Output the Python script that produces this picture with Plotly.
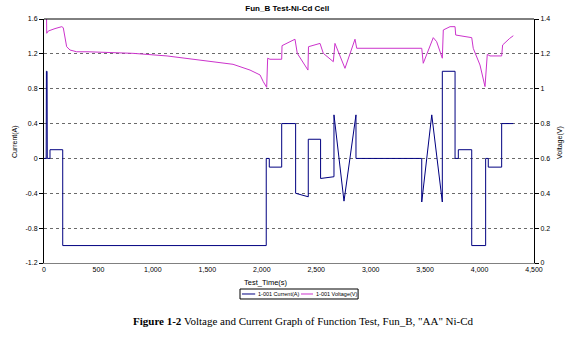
import plotly.graph_objects as go

# ---- data ----
current_t = [0, 20, 22, 28, 30, 55, 55, 172, 172, 2041, 2041, 2069, 2069, 2183, 2183,
             2311, 2311, 2427, 2427, 2540, 2540, 2663, 2663, 2755, 2865, 2865, 3469,
             3469, 3561, 3658, 3658, 3775, 3775, 3805, 3805, 3928, 3928, 4056, 4056,
             4080, 4080, 4203, 4203, 4310]
current_a = [0, 0, 1.0, 1.0, 0, 0, 0.1, 0.1, -1.0, -1.0, 0, 0, -0.1, -0.1, 0.4,
             0.4, -0.4, -0.44, 0.22, 0.22, -0.23, -0.21, 0.5, -0.49, 0.5, 0, 0,
             -0.5, 0.5, -0.5, 1.0, 1.0, 0, 0, 0.1, 0.1, -1.0, -1.0, 0,
             0, -0.1, -0.1, 0.4, 0.4]

voltage_t = [0, 23, 25, 39, 101, 163, 177, 208, 239, 300, 404, 514, 817, 1130, 1433,
             1736, 1892, 1984, 2014, 2045, 2054, 2075, 2183, 2186, 2305, 2326, 2424,
             2429, 2535, 2565, 2657, 2672, 2764, 2856, 2872, 3469, 3483, 3575, 3606,
             3658, 3667, 3729, 3775, 3781, 3928, 3942, 4004, 4050, 4071, 4096, 4203,
             4212, 4277, 4310]
voltage_v = [1.45, 1.45, 1.318, 1.331, 1.345, 1.356, 1.35, 1.241, 1.222, 1.212, 1.212,
             1.209, 1.203, 1.188, 1.165, 1.14, 1.107, 1.079, 1.04, 1.008, 1.175, 1.169,
             1.169, 1.247, 1.284, 1.203, 1.107, 1.241, 1.26, 1.203, 1.155, 1.26, 1.117,
             1.284, 1.232, 1.232, 1.146, 1.293, 1.27, 1.175, 1.337, 1.356, 1.356, 1.308,
             1.293, 1.232, 1.136, 1.012, 1.197, 1.188, 1.188, 1.251, 1.289, 1.304]

series_names = ["1-001 Current(A)", "1-001 Voltage(V)"]
x_ticks = [0, 500, 1000, 1500, 2000, 2500, 3000, 3500, 4000, 4500]
x_labels = ["0", "500", "1,000", "1,500", "2,000", "2,500", "3,000", "3,500", "4,000", "4,500"]
y1_ticks = [-1.2, -0.8, -0.4, 0, 0.4, 0.8, 1.2, 1.6]
y1_labels = ["-1.2", "-0.8", "-0.4", "0", "0.4", "0.8", "1.2", "1.6"]
y2_ticks = [0, 0.2, 0.4, 0.6, 0.8, 1.0, 1.2, 1.4]
y2_labels = ["0", "0.2", "0.4", "0.6", "0.8", "1", "1.2", "1.4"]

FONT = "Liberation Sans, Arial, sans-serif"
C_CUR = "#000080"
C_VOL = "#cc33cc"

fig = go.Figure()
fig.add_trace(go.Scatter(x=current_t, y=current_a, mode="lines", name=series_names[0],
                         line=dict(color=C_CUR, width=1), yaxis="y"))
fig.add_trace(go.Scatter(x=voltage_t, y=voltage_v, mode="lines", name=series_names[1],
                         line=dict(color=C_VOL, width=1), yaxis="y2"))

# compact boxed legend (Excel style) below the axis
leg_y = -0.127
legend_shapes = [
    dict(type="rect", xref="paper", yref="paper", x0=0.400, x1=0.641, y0=-0.1066, y1=-0.1475,
         line=dict(color="black", width=1), fillcolor="rgba(0,0,0,0)", layer="below"),
    dict(type="line", xref="paper", yref="paper", x0=0.404, x1=0.431, y0=leg_y, y1=leg_y,
         line=dict(color=C_CUR, width=1)),
    dict(type="line", xref="paper", yref="paper", x0=0.5245, x1=0.549, y0=leg_y, y1=leg_y,
         line=dict(color=C_VOL, width=1)),
]
legend_texts = [
    dict(text=series_names[0], xref="paper", yref="paper", x=0.4347, y=leg_y,
         showarrow=False, xanchor="left", yanchor="middle", font=dict(size=5.5),
         borderpad=0),
    dict(text=series_names[1], xref="paper", yref="paper", x=0.5531, y=leg_y,
         showarrow=False, xanchor="left", yanchor="middle", font=dict(size=5.5),
         borderpad=0),
]

fig.update_layout(
    width=570, height=337,
    margin=dict(l=44, r=36, t=19, b=74),
    paper_bgcolor="white", plot_bgcolor="white",
    font=dict(family=FONT, size=7, color="black"),
    showlegend=False,
    title=dict(text="<b>Fun_B Test-Ni-Cd Cell</b>", x=0.504, xref="container",
               y=1 - 8 / 337, yref="container", xanchor="center", yanchor="middle",
               font=dict(size=8, family=FONT)),
    xaxis=dict(range=[0, 4500], tickvals=x_ticks, ticktext=x_labels, showgrid=False,
               zeroline=False, showline=True, linecolor="#808080", linewidth=1,
               ticks="", tickfont=dict(size=7)),
    yaxis=dict(range=[-1.2, 1.6], tickvals=y1_ticks, ticktext=y1_labels,
               showgrid=True, gridcolor="#6a6a6a", griddash="3px,3px", gridwidth=1,
               zeroline=False, showline=True, linecolor="black", linewidth=1,
               ticks="outside", ticklen=4, tickcolor="black", tickfont=dict(size=7)),
    yaxis2=dict(range=[0, 1.4], tickvals=y2_ticks, ticktext=y2_labels, overlaying="y",
                side="right", showgrid=False, zeroline=False, showline=True,
                linecolor="black", linewidth=1, ticks="outside", ticklen=4,
                tickcolor="black", tickfont=dict(size=7)),
    shapes=[dict(type="line", xref="paper", yref="paper", x0=0, x1=1, y0=1, y1=1,
                 line=dict(color="black", width=1))] + legend_shapes,
    annotations=[
        dict(text="Test_Time(s)", xref="paper", yref="paper", x=0.453, y=-0.079,
             showarrow=False, xanchor="center", yanchor="middle", font=dict(size=7.5),
             borderpad=0),
        dict(text="Current(A)", xref="paper", yref="paper", x=-0.059, y=0.496,
             showarrow=False, textangle=-90, xanchor="center", yanchor="middle",
             font=dict(size=7)),
        dict(text="Voltage(V)", xref="paper", yref="paper", x=1.053, y=0.496,
             showarrow=False, textangle=-90, xanchor="center", yanchor="middle",
             font=dict(size=7)),
        dict(text="<b>Figure 1-2</b> Voltage and Current Graph of Function Test, Fun_B, \"AA\" Ni-Cd",
             xref="paper", yref="paper", x=0.529, y=-0.238, showarrow=False,
             xanchor="center", yanchor="middle",
             font=dict(family="Liberation Serif, Times New Roman, serif", size=11)),
    ] + legend_texts,
)

fig.write_html("out.html")
